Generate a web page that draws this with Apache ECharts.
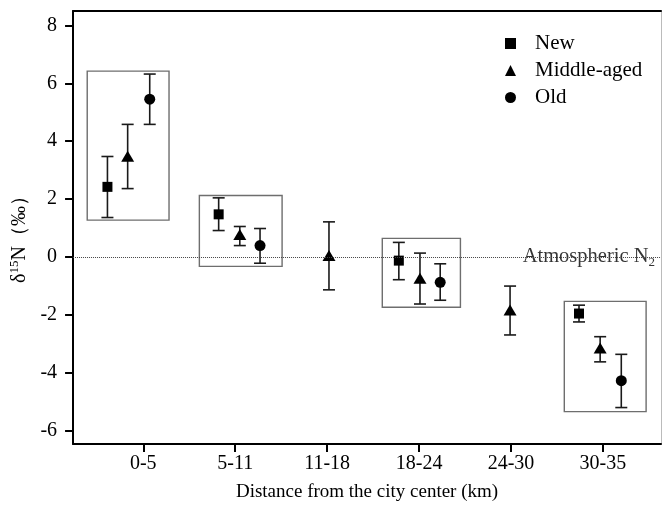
<!DOCTYPE html>
<html><head><meta charset="utf-8">
<script src="https://cdn.jsdelivr.net/npm/echarts@6/dist/echarts.min.js"></script>
<style>html,body{margin:0;padding:0;background:#fff}#c{width:662px;height:507px}</style>
</head><body><div id="c"></div>
<script>
const categories = ['0-5', '5-11', '11-18', '18-24', '24-30', '30-35'];
const yTicks = [-6, -4, -2, 0, 2, 4, 6, 8];
const xTicks = [0, 1, 2, 3, 4, 5];
// New
const newX = [-0.39, 0.82, 2.78, 4.74];
const newMean = [2.42, 1.47, -0.13, -1.96];
const newLow = [1.36, 0.91, -0.79, -2.25];
const newHigh = [3.47, 2.04, 0.50, -1.67];
// Middle-aged
const midX = [-0.17, 1.05, 2.02, 3.01, 3.99, 4.97];
const midMean = [3.48, 0.77, 0.05, -0.74, -1.84, -3.15];
const midLow = [2.36, 0.39, -1.14, -1.63, -2.70, -3.63];
const midHigh = [4.58, 1.05, 1.21, 0.13, -1.01, -2.76];
// Old
const oldX = [0.07, 1.27, 3.23, 5.20];
const oldMean = [5.45, 0.39, -0.88, -4.28];
const oldLow = [4.58, -0.22, -1.50, -5.21];
const oldHigh = [6.32, 0.98, -0.24, -3.37];
// grouping boxes
const boxX0 = [-0.61, 0.61, 2.60, 4.58];
const boxX1 = [0.28, 1.51, 3.45, 5.47];
const boxTop = [6.42, 2.12, 0.64, -1.54];
const boxBottom = [1.27, -0.33, -1.74, -5.35];
const refValue = 0;

const X_MIN = -0.764, X_MAX = 5.632, Y_MIN = -6.47, Y_MAX = 8.5;
const FONT = '"Liberation Serif", "Times New Roman", serif';
const INK = '#000';

const zip = (...arrs) => arrs[0].map((_, i) => arrs.map(a => a[i]));

function errRender(params, api) {
  const x = api.value(0), lo = api.value(1), hi = api.value(2);
  const pLo = api.coord([x, lo]), pHi = api.coord([x, hi]);
  const w = 6;
  const style = { stroke: '#1a1a1a', lineWidth: 1.6 };
  return { type: 'group', children: [
    { type: 'line', shape: { x1: pLo[0], y1: pLo[1], x2: pHi[0], y2: pHi[1] }, style },
    { type: 'line', shape: { x1: pLo[0] - w, y1: pLo[1], x2: pLo[0] + w, y2: pLo[1] }, style },
    { type: 'line', shape: { x1: pHi[0] - w, y1: pHi[1], x2: pHi[0] + w, y2: pHi[1] }, style }
  ]};
}
function boxRender(params, api) {
  const p0 = api.coord([api.value(0), api.value(2)]);
  const p1 = api.coord([api.value(1), api.value(3)]);
  return { type: 'rect', shape: { x: p0[0], y: p0[1], width: p1[0] - p0[0], height: p1[1] - p0[1] },
    style: { fill: 'none', stroke: '#6e6e6e', lineWidth: 1.4 } };
}
function errSeries(name, xs, lo, hi) {
  return { type: 'custom', name, renderItem: errRender, data: zip(xs, lo, hi),
    encode: { x: 0, y: [1, 2] }, z: 2, silent: true };
}

const chart = echarts.init(document.getElementById('c'), null, { renderer: 'canvas' });
chart.setOption({
  animation: false,
  backgroundColor: '#fff',
  grid: { left: 69, right: 1, top: 11, bottom: 60 },
  legend: {
    orient: 'vertical', left: 500, top: 28, itemWidth: 11, itemHeight: 11, itemGap: 6,
    data: ['New', 'Middle-aged', 'Old'],
    itemStyle: { opacity: 1 },
    textStyle: { fontFamily: FONT, fontSize: 21, color: INK, lineHeight: 20, padding: [0, 0, 0, 14] }
  },
  xAxis: [{
    type: 'value', min: X_MIN, max: X_MAX,
    name: 'Distance from the city center (km)', nameLocation: 'middle', nameGap: 39,
    nameTextStyle: { fontFamily: FONT, fontSize: 19, color: INK },
    axisLine: { onZero: false, lineStyle: { color: INK, width: 2 } },
    axisTick: { show: true, customValues: xTicks, length: 8, lineStyle: { color: INK, width: 2 } },
    axisLabel: { customValues: xTicks, formatter: v => categories[Math.round(v)], margin: 10,
      fontFamily: FONT, fontSize: 20, color: INK },
    splitLine: { show: false }
  }, {
    type: 'value', position: 'top', min: X_MIN, max: X_MAX,
    axisLine: { show: true, onZero: false, lineStyle: { color: INK, width: 2 } },
    axisTick: { show: false }, axisLabel: { show: false }, splitLine: { show: false }
  }],
  yAxis: [{
    type: 'value', min: Y_MIN, max: Y_MAX,
    name: '{a|δ}{s|15}{a|N（‰）}', nameLocation: 'middle', nameGap: 35, nameRotate: 90,
    nameTextStyle: { padding: [0, 14, 0, 0], rich: {
      a: { fontFamily: FONT, fontSize: 20, color: INK },
      s: { fontFamily: FONT, fontSize: 13, color: INK, verticalAlign: 'top', lineHeight: 23 }
    } },
    axisLine: { show: true, onZero: false, lineStyle: { color: INK, width: 2 } },
    axisTick: { show: true, customValues: yTicks, length: 8, lineStyle: { color: INK, width: 2 } },
    axisLabel: { customValues: yTicks, margin: 16, fontFamily: FONT, fontSize: 20, color: INK },
    splitLine: { show: false }
  }, {
    type: 'value', position: 'right', min: Y_MIN, max: Y_MAX,
    axisLine: { show: true, onZero: false, lineStyle: { color: '#bbb', width: 1 } },
    axisTick: { show: false }, axisLabel: { show: false }, splitLine: { show: false }
  }],
  series: [
    { type: 'custom', name: 'boxes', renderItem: boxRender, data: zip(boxX0, boxX1, boxTop, boxBottom),
      encode: { x: [0, 1], y: [2, 3] }, z: 1, silent: true },
    { type: 'scatter', name: 'ref', data: [[X_MAX, refValue]], symbolSize: 0, silent: true, z: 1,
      label: { show: true, position: 'left', distance: 6, formatter: '{a|Atmospheric N}{b|2}',
        rich: { a: { fontFamily: FONT, fontSize: 20.5, color: INK },
                b: { fontFamily: FONT, fontSize: 13, color: INK, padding: [11, 0, 0, 0] } } },
      markLine: { silent: true, symbol: ['none', 'none'], label: { show: false },
        lineStyle: { type: 'dotted', color: '#444', width: 1 }, data: [{ yAxis: refValue }] } },
    errSeries('errNew', newX, newLow, newHigh),
    errSeries('errMid', midX, midLow, midHigh),
    errSeries('errOld', oldX, oldLow, oldHigh),
    { type: 'scatter', name: 'New', symbol: 'rect', symbolSize: 10, data: zip(newX, newMean),
      itemStyle: { color: INK, opacity: 1 }, z: 3 },
    { type: 'scatter', name: 'Middle-aged', symbol: 'triangle', symbolSize: [13, 11], data: zip(midX, midMean),
      itemStyle: { color: INK, opacity: 1 }, z: 3 },
    { type: 'scatter', name: 'Old', symbol: 'circle', symbolSize: 11, data: zip(oldX, oldMean),
      itemStyle: { color: INK, opacity: 1 }, z: 3 }
  ]
});
</script>
</body></html>
